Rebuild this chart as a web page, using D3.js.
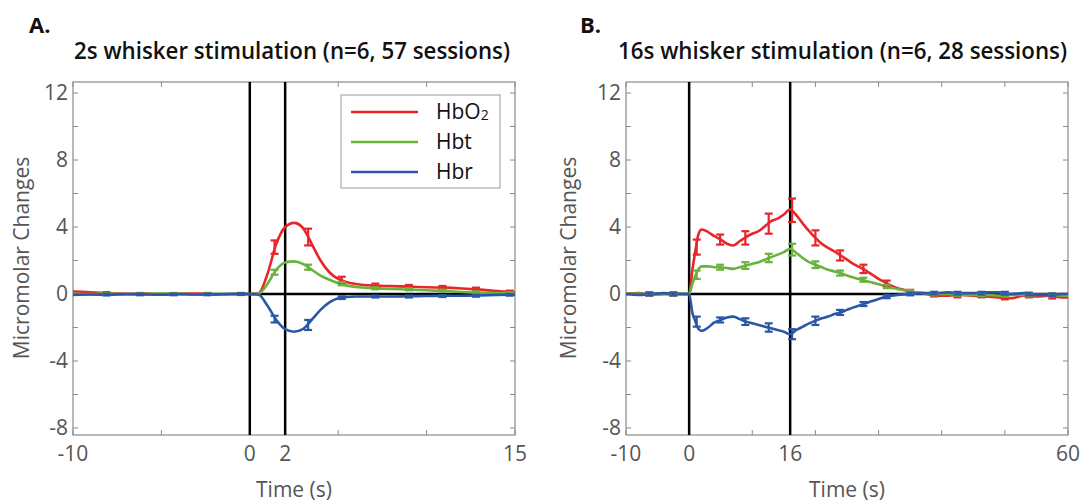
<!DOCTYPE html>
<html>
<head>
<meta charset="utf-8">
<script src="https://cdn.jsdelivr.net/npm/d3@7"></script>
<style>
  body { margin: 0; background: #fff; }
  text { font-family: "Open Sans", "Noto Sans", sans-serif; }
</style>
</head>
<body>
<svg id="chart" width="1082" height="502"></svg>
<script>
// ---- panel A: 2s stimulation ----
var timeA = [-10, -9, -8, -7, -6, -5, -4, -3, -2, -1, 0, 0.5, 1, 1.5, 2, 2.5, 3, 3.5, 4, 4.5, 5, 5.5, 6, 7, 8, 9, 10, 11, 12, 13, 14, 15];
var hbo2A = [0.15, 0.1, 0.05, 0.0, 0.02, -0.02, 0.0, 0.02, -0.03, 0.0, 0.0, 0.05, 1.2, 3.0, 4.0, 4.25, 3.95, 3.0, 2.0, 1.3, 0.9, 0.7, 0.6, 0.5, 0.47, 0.44, 0.4, 0.38, 0.33, 0.26, 0.17, 0.1];
var hbtA  = [0.03, 0.0, 0.02, -0.02, 0.0, 0.02, 0.0, -0.02, 0.0, 0.0, 0.0, 0.03, 0.6, 1.45, 1.88, 1.95, 1.8, 1.45, 1.1, 0.85, 0.65, 0.5, 0.42, 0.35, 0.3, 0.27, 0.22, 0.18, 0.12, 0.08, 0.05, 0.03];
var hbrA  = [-0.05, -0.03, -0.05, 0.0, -0.02, -0.04, 0.0, -0.03, -0.02, 0.0, 0.0, -0.05, -0.7, -1.55, -2.1, -2.25, -2.1, -1.55, -0.95, -0.5, -0.25, -0.18, -0.15, -0.15, -0.15, -0.13, -0.12, -0.1, -0.1, -0.08, -0.05, -0.03];

var errTimeA = [-8.1, -6.2, -4.3, -2.4, -0.5, 1.4, 3.3, 5.2, 7.1, 9.0, 10.9, 12.8, 14.7];
var hbo2ErrMeanA = [0.05, 0.0, 0.0, 0.0, 0.0, 2.8, 3.4, 0.85, 0.5, 0.44, 0.38, 0.28, 0.12];
var hbo2ErrA     = [0.06, 0.06, 0.06, 0.06, 0.06, 0.4, 0.5, 0.18, 0.12, 0.1, 0.1, 0.1, 0.08];
var hbtErrMeanA  = [0.0, 0.0, 0.0, 0.0, 0.0, 1.3, 1.6, 0.62, 0.34, 0.28, 0.2, 0.1, 0.05];
var hbtErrA      = [0.05, 0.05, 0.05, 0.05, 0.05, 0.15, 0.15, 0.1, 0.06, 0.06, 0.06, 0.06, 0.05];
var hbrErrMeanA  = [-0.03, -0.02, -0.02, -0.02, 0.0, -1.5, -1.85, -0.22, -0.15, -0.15, -0.12, -0.1, -0.05];
var hbrErrA      = [0.05, 0.05, 0.05, 0.05, 0.05, 0.2, 0.3, 0.08, 0.06, 0.06, 0.06, 0.06, 0.05];

// ---- panel B: 16s stimulation ----
var timeB = [-10, -8, -6, -4, -2, 0, 0.5, 1, 1.5, 2, 3, 4, 5, 6, 7, 8, 9, 10, 11, 12, 13, 14, 15, 16, 17, 18, 19, 20, 21, 22, 23, 24, 25, 26, 27, 28, 29, 30, 31, 32, 33, 34, 35, 37, 39, 41, 43, 45, 47, 49, 51, 53, 55, 57, 59, 60];
var hbo2B = [0.0, 0.05, -0.05, 0.02, 0.0, 0.0, 1.4, 2.6, 3.6, 3.85, 3.7, 3.45, 3.25, 3.0, 2.9, 3.15, 3.4, 3.6, 3.75, 4.05, 4.35, 4.5, 4.75, 5.05, 4.7, 4.2, 3.75, 3.35, 3.0, 2.75, 2.55, 2.3, 2.05, 1.8, 1.6, 1.4, 1.15, 0.9, 0.7, 0.5, 0.35, 0.25, 0.15, 0.05, -0.1, -0.1, -0.05, -0.1, -0.15, -0.2, -0.25, -0.1, -0.15, -0.1, -0.2, -0.2];
var hbtB  = [0.0, 0.02, -0.02, 0.0, 0.02, 0.0, 0.6, 1.1, 1.5, 1.65, 1.65, 1.6, 1.6, 1.55, 1.5, 1.6, 1.7, 1.8, 1.9, 2.05, 2.2, 2.35, 2.5, 2.7, 2.45, 2.15, 1.9, 1.75, 1.6, 1.45, 1.35, 1.25, 1.1, 0.98, 0.88, 0.78, 0.68, 0.58, 0.48, 0.38, 0.3, 0.22, 0.15, 0.05, 0.0, 0.0, -0.03, -0.05, -0.05, -0.1, -0.05, -0.05, -0.05, -0.05, -0.1, -0.1];
var hbrB  = [0.0, -0.05, 0.0, 0.05, 0.0, 0.0, -1.1, -1.65, -2.1, -2.2, -2.0, -1.7, -1.55, -1.4, -1.35, -1.5, -1.65, -1.75, -1.85, -1.95, -2.05, -2.15, -2.25, -2.4, -2.15, -1.95, -1.75, -1.6, -1.45, -1.35, -1.2, -1.1, -0.95, -0.8, -0.68, -0.55, -0.42, -0.3, -0.18, -0.1, -0.05, -0.02, 0.0, 0.05, 0.05, 0.1, 0.05, 0.05, 0.1, 0.1, 0.0, 0.05, -0.05, -0.05, 0.0, 0.0];

var errTimeB = [-6.3, -2.5, 1.2, 4.9, 8.9, 12.6, 16.3, 20, 23.9, 27.6, 31.3, 35, 38.8, 42.5, 46.3, 50, 53.8, 57.5];
var hbo2ErrMeanB = [0.0, 0.0, 2.8, 3.25, 3.35, 4.2, 5.0, 3.35, 2.3, 1.5, 0.65, 0.15, -0.05, -0.1, -0.1, -0.2, -0.1, -0.15];
var hbo2ErrB     = [0.1, 0.1, 0.45, 0.3, 0.4, 0.6, 0.7, 0.45, 0.3, 0.25, 0.15, 0.1, 0.1, 0.1, 0.1, 0.12, 0.1, 0.12];
var hbtErrMeanB  = [0.0, 0.0, 1.15, 1.6, 1.7, 2.15, 2.65, 1.75, 1.25, 0.85, 0.45, 0.15, 0.0, -0.02, -0.05, -0.08, -0.05, -0.05];
var hbtErrB      = [0.08, 0.08, 0.25, 0.15, 0.2, 0.25, 0.35, 0.2, 0.15, 0.12, 0.1, 0.08, 0.08, 0.08, 0.08, 0.08, 0.08, 0.08];
var hbrErrMeanB  = [0.0, 0.0, -1.65, -1.55, -1.65, -2.0, -2.4, -1.6, -1.1, -0.6, -0.15, 0.0, 0.05, 0.05, 0.05, 0.05, 0.0, -0.05];
var hbrErrB      = [0.08, 0.08, 0.3, 0.15, 0.2, 0.25, 0.3, 0.25, 0.15, 0.12, 0.1, 0.08, 0.08, 0.08, 0.08, 0.08, 0.08, 0.08];

var yTicks = [-8, -6, -4, -2, 0, 2, 4, 6, 8, 10, 12];
var yTickLabels = [-8, -4, 0, 4, 8, 12];

var seriesNames = ["HbO2", "Hbt", "Hbr"];
var colors = ["#e8262a", "#68b33c", "#2b57a7"];

var svg = d3.select("#chart");
svg.append("rect").attr("width", 1082).attr("height", 502).attr("fill", "#fff");

function drawPanel(p) {
  var x = d3.scaleLinear().domain(p.xDomain).range([p.left, p.right]);
  var y = d3.scaleLinear().domain([-8.42, 12.66]).range([435, 82]);
  var g = svg.append("g");

  // box
  g.append("rect")
    .attr("x", p.left).attr("y", 82)
    .attr("width", p.right - p.left).attr("height", 435 - 82)
    .attr("fill", "none").attr("stroke", "#8a8a8a").attr("stroke-width", 1.2);

  // ticks (inward, on all four sides)
  var tk = 5;
  yTicks.forEach(function(v) {
    g.append("line").attr("x1", p.left).attr("x2", p.left + tk)
      .attr("y1", y(v)).attr("y2", y(v)).attr("stroke", "#8a8a8a");
    g.append("line").attr("x1", p.right).attr("x2", p.right - tk)
      .attr("y1", y(v)).attr("y2", y(v)).attr("stroke", "#8a8a8a");
  });
  p.xTicks.forEach(function(v) {
    g.append("line").attr("x1", x(v)).attr("x2", x(v))
      .attr("y1", 435).attr("y2", 435 - tk).attr("stroke", "#8a8a8a");
    g.append("line").attr("x1", x(v)).attr("x2", x(v))
      .attr("y1", 82).attr("y2", 82 + tk).attr("stroke", "#8a8a8a");
  });

  // tick labels
  g.selectAll(".ylab").data(yTickLabels).enter().append("text")
    .attr("x", p.left - 5).attr("y", function(d) { return y(d) + 7; })
    .attr("text-anchor", "end").attr("font-size", 21).attr("fill", "#555")
    .text(function(d) { return d; });
  g.selectAll(".xlab").data(p.xLabels).enter().append("text")
    .attr("x", function(d) { return x(d); }).attr("y", 461)
    .attr("text-anchor", "middle").attr("font-size", 21).attr("fill", "#555")
    .text(function(d) { return d; });

  // axis titles
  g.append("text")
    .attr("transform", "translate(" + p.labelX + ",258) rotate(-90)")
    .attr("text-anchor", "middle").attr("font-size", 21).attr("fill", "#555")
    .text("Micromolar Changes");
  g.append("text")
    .attr("x", (p.left + p.right) / 2).attr("y", 497)
    .attr("text-anchor", "middle").attr("font-size", 21).attr("fill", "#555")
    .text("Time (s)");

  // stimulus markers and zero line
  p.markers.forEach(function(v) {
    g.append("line").attr("x1", x(v)).attr("x2", x(v))
      .attr("y1", 82).attr("y2", 435).attr("stroke", "#000").attr("stroke-width", 2.5);
  });
  g.append("line").attr("x1", p.left).attr("x2", p.right)
    .attr("y1", y(0)).attr("y2", y(0)).attr("stroke", "#000").attr("stroke-width", 2.5);

  // curves
  var line = d3.line().curve(d3.curveMonotoneX)
    .x(function(d) { return x(d[0]); }).y(function(d) { return y(d[1]); });
  p.series.forEach(function(s, i) {
    var pts = p.time.map(function(t, k) { return [t, s[k]]; });
    g.append("path").attr("d", line(pts))
      .attr("fill", "none").attr("stroke", colors[i]).attr("stroke-width", 2.6)
      .attr("stroke-linejoin", "round");
  });

  // error bars
  p.errMeans.forEach(function(means, i) {
    var eg = g.append("g").attr("stroke", colors[i]).attr("stroke-width", 2.2);
    p.errTime.forEach(function(t, k) {
      var m = means[k], e = p.errs[i][k];
      var cx = x(t);
      eg.append("line").attr("x1", cx).attr("x2", cx).attr("y1", y(m - e)).attr("y2", y(m + e));
      eg.append("line").attr("x1", cx - 4).attr("x2", cx + 4).attr("y1", y(m - e)).attr("y2", y(m - e));
      eg.append("line").attr("x1", cx - 4).attr("x2", cx + 4).attr("y1", y(m + e)).attr("y2", y(m + e));
    });
  });

  // panel letter and title
  svg.append("text").attr("x", p.letterX).attr("y", 33)
    .attr("font-size", 22).attr("font-weight", 700).attr("fill", "#111")
    .text(p.letter);
  svg.append("text").attr("x", p.titleX).attr("y", 59)
    .attr("font-size", 23).attr("font-weight", 600).attr("fill", "#111")
    .attr("textLength", p.titleW).attr("lengthAdjust", "spacingAndGlyphs")
    .text(p.title);
}

drawPanel({
  left: 73, right: 515, xDomain: [-10, 15], labelX: 29,
  xTicks: [-10, -5, 0, 2, 5, 10, 15], xLabels: [-10, 0, 2, 15], markers: [0, 2],
  time: timeA, series: [hbo2A, hbtA, hbrA],
  errTime: errTimeA, errMeans: [hbo2ErrMeanA, hbtErrMeanA, hbrErrMeanA], errs: [hbo2ErrA, hbtErrA, hbrErrA],
  letter: "A.", letterX: 29, title: "2s whisker stimulation (n=6, 57 sessions)", titleX: 74, titleW: 436
});

drawPanel({
  left: 626, right: 1068, xDomain: [-10, 60], labelX: 576,
  xTicks: [-10, 0, 10, 16, 20, 30, 40, 50, 60], xLabels: [-10, 0, 16, 60], markers: [0, 16],
  time: timeB, series: [hbo2B, hbtB, hbrB],
  errTime: errTimeB, errMeans: [hbo2ErrMeanB, hbtErrMeanB, hbrErrMeanB], errs: [hbo2ErrB, hbtErrB, hbrErrB],
  letter: "B.", letterX: 580, title: "16s whisker stimulation (n=6, 28 sessions)", titleX: 618, titleW: 449
});

// legend (panel A)
var lg = svg.append("g");
lg.append("rect").attr("x", 341).attr("y", 95).attr("width", 159).attr("height", 93)
  .attr("fill", "#fff").attr("stroke", "#9a9a9a").attr("stroke-width", 1);
var legendY = [112, 142, 172];
seriesNames.forEach(function(name, i) {
  lg.append("line").attr("x1", 351).attr("x2", 418)
    .attr("y1", legendY[i]).attr("y2", legendY[i])
    .attr("stroke", colors[i]).attr("stroke-width", 2.6);
  var t = lg.append("text").attr("x", 436).attr("y", legendY[i] + 7)
    .attr("font-size", 21).attr("fill", "#111");
  if (name === "HbO2") {
    t.append("tspan").text("HbO");
    t.append("tspan").attr("font-size", 14).attr("dy", 1).text("2");
  } else {
    t.text(name);
  }
});
</script>
</body>
</html>
